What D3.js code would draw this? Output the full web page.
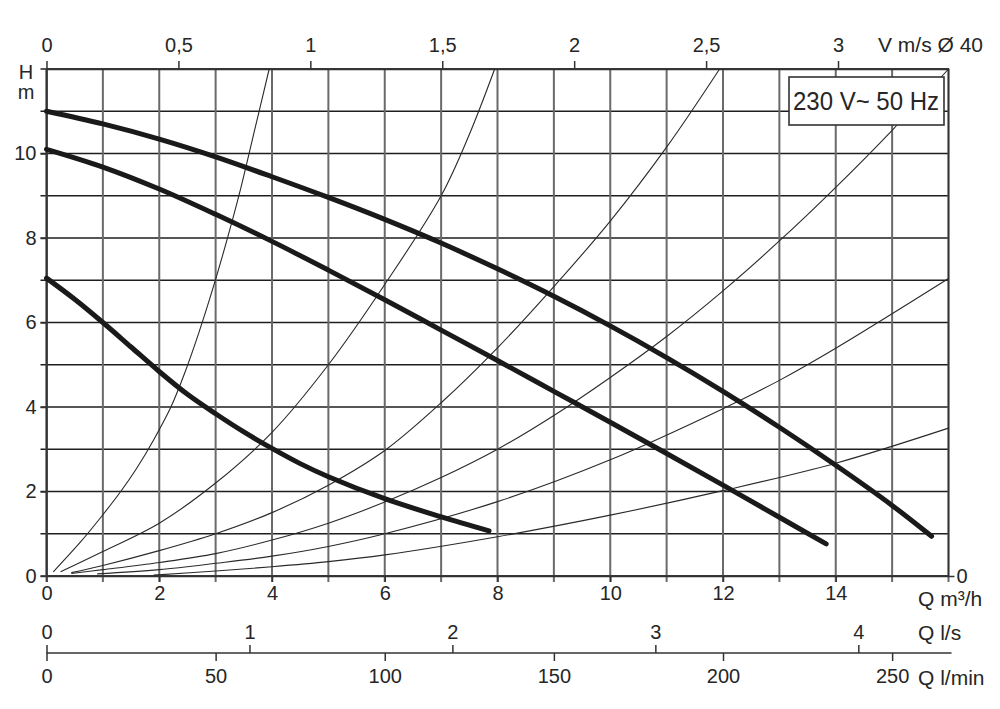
<!DOCTYPE html>
<html>
<head>
<meta charset="utf-8">
<script src="https://cdn.jsdelivr.net/npm/d3@7"></script>
<style>
  body { margin: 0; background: #fff; }
  text { font-family: "Liberation Sans", Arial, sans-serif; fill: #262626; }
</style>
</head>
<body>
<script>
// tick labels
var qTicks = [0, 2, 4, 6, 8, 10, 12, 14];
var hTicks = [0, 2, 4, 6, 8, 10];
var vTicks = [0, 0.5, 1, 1.5, 2, 2.5, 3];
var lsTicks = [0, 1, 2, 3, 4];
var lminTicks = [0, 50, 100, 150, 200, 250];

// pump curves [Q m3/h, H m]
var pumpHigh = [[0, 11.0], [1, 10.7], [2, 10.34], [3, 9.92], [4, 9.45], [5, 8.96], [6, 8.44], [7, 7.88],
  [8, 7.27], [9, 6.62], [10, 5.92], [11, 5.17], [12, 4.37], [13, 3.52], [14, 2.62], [15, 1.67], [15.7, 0.94]];
var pumpMid = [[0, 10.1], [1, 9.68], [2, 9.16], [3, 8.56], [4, 7.92], [5, 7.24], [6, 6.54], [7, 5.82],
  [8, 5.1], [9, 4.37], [10, 3.64], [11, 2.9], [12, 2.15], [13, 1.39], [13.83, 0.76]];
var pumpLow = [[0, 7.05], [0.5, 6.55], [1, 6.0], [1.5, 5.42], [2, 4.84], [2.5, 4.3], [3, 3.84], [3.5, 3.41],
  [4, 3.02], [4.5, 2.66], [5, 2.35], [6, 1.83], [7, 1.4], [7.85, 1.07]];

// system curves
var sysA = [[0.12, 0.1], [0.6, 0.8], [1.0, 1.45], [1.3, 1.97], [1.6, 2.55], [1.9, 3.22], [2.2, 3.98],
  [2.45, 4.8], [2.7, 5.75], [2.95, 6.8], [3.2, 7.95], [3.45, 9.2], [3.7, 10.6], [3.95, 12.0]];
var sysB = [[0.25, 0.1], [1.0, 0.58], [2.0, 1.25], [3.0, 2.2], [4.0, 3.4], [5.0, 5.0], [6.0, 6.9],
  [7.0, 9.0], [7.5, 10.45], [7.95, 12.0]];
var sysC = [[0.44, 0.08], [1.0, 0.25], [2.0, 0.6], [3.0, 1.0], [4.0, 1.5], [5.0, 2.15], [6.0, 2.97],
  [7.0, 4.1], [8.0, 5.4], [9.0, 6.85], [10.0, 8.4], [11.0, 10.15], [11.94, 12.0]];
var sysD = [[0.44, 0.06], [1.0, 0.15], [2.0, 0.32], [3.0, 0.53], [4.0, 0.85], [5.0, 1.25], [6.0, 1.75],
  [7.0, 2.33], [8.0, 3.0], [9.0, 3.8], [10.0, 4.7], [11.0, 5.67], [12.0, 6.75], [13.0, 7.93], [14.0, 9.2],
  [15.0, 10.55], [16.0, 12.0]];
var sysE = [[0.9, 0.05], [2.0, 0.15], [3.0, 0.3], [4.0, 0.47], [5.0, 0.7], [6.0, 1.0], [8.0, 1.76],
  [10.0, 2.75], [12.0, 3.96], [13.0, 4.63], [14.0, 5.39], [16.0, 7.04]];
var sysF = [[1.9, 0.02], [3.0, 0.12], [4.0, 0.22], [5.0, 0.34], [6.0, 0.5], [8.0, 0.93], [10.0, 1.44],
  [12.0, 2.02], [14.0, 2.67], [16.0, 3.5]];

var flowPerVelocity = 4.68; // m3/h per m/s

var svgWidth = 1000;
var svgHeight = 709;

var svg = d3.select("body")
  .append("svg")
  .attr("width", svgWidth)
  .attr("height", svgHeight);

var x = d3.scaleLinear().domain([0, 16]).range([46.5, 948.5]);
var y = d3.scaleLinear().domain([0, 12]).range([576, 69]);
var v = d3.scaleLinear().domain([0, 16 / flowPerVelocity]).range(x.range());
var ls = d3.scaleLinear().domain([0, 16 / 3.6]).range(x.range());
var lmin = d3.scaleLinear().domain([0, 16 / 0.06]).range(x.range());

// horizontal grid
svg.append("g")
  .selectAll("line")
  .data(y.ticks(12))
  .enter().append("line")
  .attr("x1", x(0) - 6)
  .attr("x2", x(16))
  .attr("y1", function(d) { return y(d); })
  .attr("y2", function(d) { return y(d); })
  .attr("stroke", "#1e1e1e")
  .attr("stroke-width", 1.5);

// vertical grid
svg.append("g")
  .selectAll("line")
  .data(x.ticks(16))
  .enter().append("line")
  .attr("x1", function(d) { return x(d); })
  .attr("x2", function(d) { return x(d); })
  .attr("y1", y(12))
  .attr("y2", y(0) + 6)
  .attr("stroke", "#6a6a6a")
  .attr("stroke-width", 2);

function styleAxis(g) {
  g.attr("font-family", null).attr("font-size", null);
  g.selectAll("text").style("font-size", "20px").attr("fill", "#262626");
  g.selectAll("line").attr("stroke", "#333").attr("stroke-width", 1.5);
  g.select(".domain").attr("stroke", "#333").attr("stroke-width", 1.5);
}

var commaFormat = function(d) { return String(d).replace(".", ","); };

// top: velocity
svg.append("g")
  .attr("transform", "translate(0," + y(12) + ")")
  .call(d3.axisTop(v).tickValues(vTicks).tickSize(8).tickSizeOuter(0).tickPadding(9).tickFormat(commaFormat))
  .call(styleAxis);

// left: H
svg.append("g")
  .attr("transform", "translate(" + x(0) + ",0)")
  .call(d3.axisLeft(y).tickValues(hTicks).tickSize(6).tickSizeOuter(0).tickPadding(4))
  .call(styleAxis);

// right: single 0
svg.append("g")
  .attr("transform", "translate(" + x(16) + ",0)")
  .call(d3.axisRight(y).tickValues([0]).tickSize(6).tickSizeOuter(0).tickPadding(2))
  .call(styleAxis)
  .call(function(g) { g.select(".domain").remove(); });

// bottom: Q m3/h
svg.append("g")
  .attr("transform", "translate(0," + y(0) + ")")
  .call(d3.axisBottom(x).tickValues(qTicks).tickSize(6).tickSizeOuter(0).tickPadding(4))
  .call(styleAxis);

// Q l/s and Q l/min scales
var qScaleY = 653;
svg.append("g")
  .attr("transform", "translate(0," + qScaleY + ")")
  .call(d3.axisTop(ls).tickValues(lsTicks).tickSize(8).tickSizeOuter(0).tickPadding(6).tickFormat(d3.format("d")))
  .call(styleAxis)
  .call(function(g) { g.select(".domain").attr("d", "M" + x(0) + ",0H" + (x(16) + 3)); });

svg.append("g")
  .attr("transform", "translate(0," + qScaleY + ")")
  .call(d3.axisBottom(lmin).tickValues(lminTicks).tickSize(8).tickSizeOuter(0).tickPadding(8))
  .call(styleAxis)
  .call(function(g) { g.select(".domain").remove(); });

// border
svg.append("rect")
  .attr("x", x(0))
  .attr("y", y(12))
  .attr("width", x(16) - x(0))
  .attr("height", y(0) - y(12))
  .attr("fill", "none")
  .attr("stroke", "#333")
  .attr("stroke-width", 1.6);

var line = d3.line()
  .x(function(d) { return x(d[0]); })
  .y(function(d) { return y(d[1]); })
  .curve(d3.curveCatmullRom.alpha(0.5));

// system curves
svg.append("g")
  .selectAll("path")
  .data([sysA, sysB, sysC, sysD, sysE, sysF])
  .enter().append("path")
  .attr("d", line)
  .attr("fill", "none")
  .attr("stroke", "#2a2a2a")
  .attr("stroke-width", 1.1);

// pump curves
svg.append("g")
  .selectAll("path")
  .data([pumpHigh, pumpMid, pumpLow])
  .enter().append("path")
  .attr("d", line)
  .attr("fill", "none")
  .attr("stroke", "#1a1a1a")
  .attr("stroke-width", 5)
  .attr("stroke-linecap", "round");

// supply box
svg.append("rect")
  .attr("x", 789)
  .attr("y", 77)
  .attr("width", 155)
  .attr("height", 48)
  .attr("fill", "#fff")
  .attr("stroke", "#333")
  .attr("stroke-width", 1.6);

svg.append("text")
  .attr("x", 866)
  .attr("y", 110)
  .attr("text-anchor", "middle")
  .attr("textLength", 146)
  .attr("lengthAdjust", "spacingAndGlyphs")
  .style("font-size", "26px")
  .text("230 V~ 50 Hz");

// axis titles
svg.append("text").attr("x", 26).attr("y", 79).attr("text-anchor", "middle").style("font-size", "20px").text("H");
svg.append("text").attr("x", 26).attr("y", 99).attr("text-anchor", "middle").style("font-size", "20px").text("m");
svg.append("text").attr("x", 878).attr("y", 52).style("font-size", "21px").text("V m/s Ø 40");
svg.append("text").attr("x", 918).attr("y", 606).style("font-size", "21px").text("Q m³/h");
svg.append("text").attr("x", 918).attr("y", 640).style("font-size", "21px").text("Q l/s");
svg.append("text").attr("x", 918).attr("y", 685).style("font-size", "21px").text("Q l/min");
</script>
</body>
</html>
